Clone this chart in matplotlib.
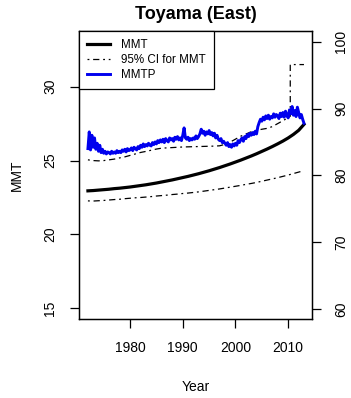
import matplotlib
matplotlib.use('Agg')
import matplotlib.pyplot as plt
import numpy as np

plt.rcParams['font.family'] = ['Liberation Sans', 'DejaVu Sans']

# yearly MMT and its 95% CI (left axis)
years = np.arange(1972, 2014)
mmt = [22.95, 22.97, 23.00, 23.03, 23.06, 23.10, 23.13, 23.17, 23.21, 23.26,
       23.31, 23.36, 23.42, 23.48, 23.55, 23.62, 23.69, 23.77, 23.85, 23.93,
       24.02, 24.11, 24.21, 24.31, 24.42, 24.53, 24.65, 24.77, 24.90, 25.03,
       25.17, 25.31, 25.46, 25.62, 25.78, 25.95, 26.13, 26.32, 26.53, 26.77,
       27.05, 27.45]
ci_low = [22.27, 22.26, 22.28, 22.30, 22.33, 22.36, 22.38, 22.42, 22.45, 22.48,
          22.50, 22.53, 22.56, 22.60, 22.63, 22.66, 22.70, 22.73, 22.77, 22.80,
          22.84, 22.88, 22.93, 22.98, 23.03, 23.08, 23.14, 23.20, 23.26, 23.32,
          23.39, 23.45, 23.52, 23.60, 23.68, 23.76, 23.84, 23.93, 24.02, 24.12,
          24.22, 24.32]
ci_up_years = [1972, 1973, 1974, 1975, 1976, 1977, 1978, 1979, 1980, 1981,
               1982, 1983, 1984, 1985, 1986, 1987, 1988, 1989, 1990, 1991,
               1992, 1993, 1994, 1995, 1996, 1997, 1998, 1999, 2000, 2001,
               2002, 2003, 2004, 2005, 2006, 2007, 2008, 2009, 2010, 2010.4,
               2010.4, 2011, 2012, 2013]
ci_up = [25.05, 25.00, 24.98, 25.00, 25.05, 25.10, 25.18, 25.25, 25.35, 25.45,
         25.55, 25.62, 25.70, 25.78, 25.84, 25.86, 25.88, 25.90, 25.92, 25.93,
         25.94, 25.95, 25.96, 25.97, 25.98, 26.00, 26.10, 26.25, 26.45, 26.65,
         26.80, 26.95, 27.05, 27.12, 27.18, 27.30, 27.50, 27.70, 27.90, 28.00,
         31.50, 31.50, 31.50, 31.50]

# quarterly MMTP (right axis)
mmtp_start = 1972
mmtp = [84.0, 86.5, 83.8, 86.0,
        84.2, 85.6, 83.9, 84.8,
        83.6, 84.5, 83.4, 83.9,
        83.3, 83.6, 83.2, 83.5,
        83.4, 83.2, 83.6, 83.3,
        83.5, 83.3, 83.7, 83.4,
        83.6, 83.4, 83.8, 83.6,
        83.9, 83.5, 84.0, 83.7,
        83.8, 84.1, 83.7, 84.2,
        84.0, 83.8, 84.3, 84.0,
        84.5, 84.2, 84.7, 84.3,
        84.6, 84.4, 84.8, 84.5,
        84.4, 84.9, 84.6, 85.0,
        84.7, 85.2, 84.9, 85.3,
        85.0, 85.4, 84.9, 85.5,
        85.2, 85.0, 85.6, 85.3,
        85.5, 85.1, 85.7, 85.4,
        85.8, 85.3, 85.6, 85.2,
        86.0, 87.1, 85.6, 85.4,
        85.7, 85.2, 85.5, 85.3,
        85.6, 85.4, 85.9, 85.5,
        85.8, 86.2, 86.9, 86.3,
        86.6, 86.0, 86.5, 86.2,
        86.7, 86.1, 86.4, 85.9,
        86.3, 85.6, 86.0, 85.4,
        85.2, 85.5, 84.9, 85.1,
        84.8, 84.5, 84.9, 84.3,
        84.6, 84.2, 84.7, 84.4,
        84.8, 84.5, 85.2, 84.9,
        85.3, 85.6, 85.1, 85.8,
        85.5, 86.1, 85.8, 86.3,
        86.0, 86.4, 86.1, 86.6,
        86.2, 87.3, 87.9, 88.4,
        88.1, 88.7, 88.3, 88.9,
        88.5, 89.0, 88.4, 88.8,
        88.6, 89.2, 88.7, 89.1,
        88.9, 88.5, 89.3, 88.8,
        89.4, 88.7, 89.6, 89.0,
        88.6, 89.8, 89.2, 90.3,
        89.0, 89.7, 88.8, 90.2,
        89.4, 88.6, 89.1, 88.4,
        87.8]
mmtp_years = mmtp_start + np.arange(len(mmtp)) / 4.0

left_ticks = [15, 20, 25, 30]
right_ticks = [60, 70, 80, 90, 100]
x_ticks = [1980, 1990, 2000, 2010]

fig = plt.figure(figsize=(3.51, 3.98), dpi=100)
ax = fig.add_axes([0.225, 0.198, 0.665, 0.724])
ax2 = ax.twinx()

dash = (0, (1.5, 3, 5, 3))
l1, = ax.plot(years, mmt, color='black', lw=2.3)
l2, = ax.plot(years, ci_low, color='black', lw=0.9, linestyle=dash)
ax.plot(ci_up_years, ci_up, color='black', lw=0.9, linestyle=dash)
l3, = ax2.plot(mmtp_years, mmtp, color='#0000ee', lw=2.1)

ax.set_xlim(1970.3, 2014.6)
ax.set_ylim(14.26, 33.77)
ax2.set_ylim(58.46, 101.6)

ax.set_xticks(x_ticks)
ax.set_yticks(left_ticks)
ax2.set_yticks(right_ticks)
ax.tick_params(axis='both', length=6.5, width=0.9, labelsize=10, pad=9)
ax2.tick_params(axis='y', length=6.5, width=0.9, labelsize=10, pad=9)
for lab in ax.get_yticklabels() + ax2.get_yticklabels():
    lab.set_rotation(90)
    lab.set_va('center')

for sp in ax2.spines.values():
    sp.set_linewidth(1.0)

ax.set_xlabel('Year', fontsize=10, labelpad=18)
ax.set_ylabel('MMT', fontsize=10, labelpad=14)
ax.set_title('Toyama (East)', fontsize=13, fontweight='bold', pad=9)

leg = ax2.legend([l1, l2, l3], ['MMT', '95% CI for MMT', 'MMTP'],
                 loc='upper left', bbox_to_anchor=(0, 1), borderaxespad=0,
                 fontsize=8.4, fancybox=False, framealpha=1, edgecolor='black',
                 handlelength=2.0, handletextpad=0.9, labelspacing=0.25,
                 borderpad=0.7)
leg.get_frame().set_linewidth(0.9)

fig.savefig('out.png', dpi=100)
